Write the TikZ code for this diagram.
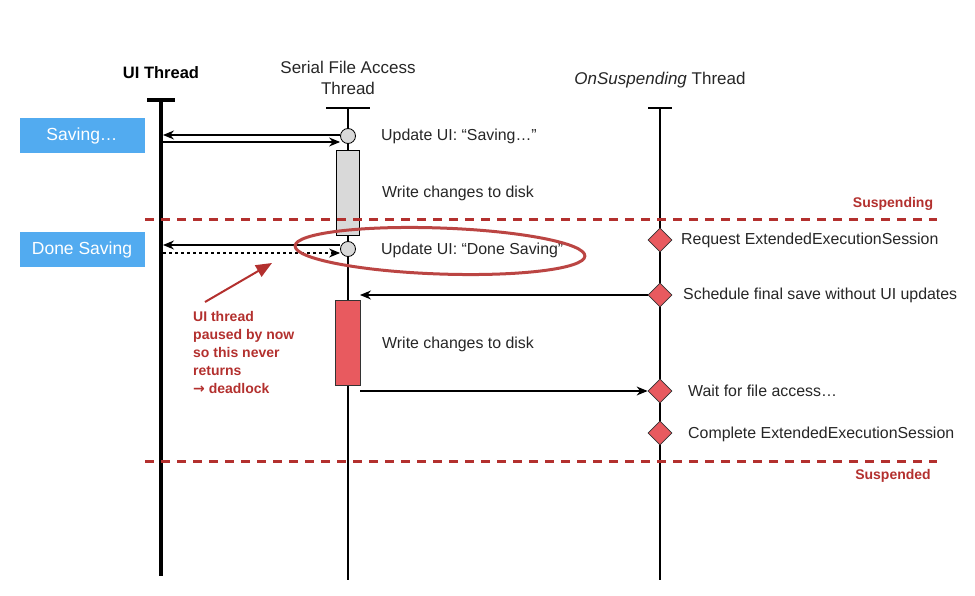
\documentclass[tikz,border=0pt]{standalone}
\usepackage{fontspec}
\setmainfont{Liberation Sans}
\usetikzlibrary{shapes.geometric,arrows.meta}
\definecolor{blu}{HTML}{52ABF0}
\definecolor{dred}{HTML}{B3302E}
\definecolor{lred}{HTML}{E85A5F}
\begin{document}
\begin{tikzpicture}[x=1pt,y=-1pt,font=\fontsize{15.9}{17}\selectfont,
  life/.style={line width=1.3pt},
  msg/.style={line width=1.2pt,-{Stealth[length=11pt,width=9pt]}},
  lbl/.style={anchor=west,inner sep=0pt,text=black!85},
  uibox/.style={fill=blu,text=white,minimum width=125pt,minimum height=35pt,inner sep=0pt,font=\fontsize{17.5}{19}\selectfont},
  circ/.style={circle,draw,fill=black!15,minimum size=15pt,inner sep=0pt,line width=0.8pt},
  dia/.style={diamond,draw=black!80,fill=lred,minimum size=24pt,inner sep=0pt,line width=0.8pt},
  sep/.style={dred,line width=3pt,dash pattern=on 9pt off 7pt},
  red/.style={text=dred,font=\fontsize{14}{18}\selectfont\bfseries}]
\useasboundingbox (0,0) rectangle (975,596);
% headers
\node[font=\fontsize{16.5}{18}\selectfont\bfseries] (h1) at (161,73) {UI Thread};
\node[align=center,font=\fontsize{17}{21}\selectfont,text=black!85] (h2) at (348,78) {Serial File Access\\Thread};
\node[font=\fontsize{17}{18}\selectfont,text=black!85] (h3) at (660,80) {\textit{OnSuspending} Thread};
% lifelines
\draw[line width=4pt] (147,100) -- (175,100);
\draw[line width=4pt] (161,100) -- (161,576);
\draw[life] (326,108) -- (370,108);
\draw[life] (348,108) -- (348,580);
\draw[life] (648,108) -- (672,108);
\draw[life] (660,108) -- (660,580);
% boxes
\node[uibox] (b1) at (82,136) {Saving…};
\node[uibox] (b2) at (82,250) {Done Saving};
\node[draw,fill=black!15,minimum width=23pt,minimum height=85pt,inner sep=0pt] (g) at (348,193) {};
\node[draw=black!80,fill=lred,line width=1pt,minimum width=25pt,minimum height=85pt,inner sep=0pt] (r) at (348,343) {};
\node[circ] (c1) at (348,136) {};
\node[circ] (c2) at (348,249) {};
% separators
\draw[sep] (145,220) -- (937,220);
\draw[sep] (145,461) -- (937,461);
\node[red] (s1) at (893,204) {Suspending};
\node[red] (s2) at (893,476) {Suspended};
% diamonds
\node[dia] (d1) at (660,240) {};
\node[dia] (d2) at (660,295) {};
\node[dia] (d3) at (660,391) {};
\node[dia] (d4) at (660,433) {};
% labels
\node[lbl] (l1) at (381,136) {Update UI: “Saving…”};
\node[lbl] (l2) at (382,193) {Write changes to disk};
\node[lbl] (l3) at (381,250) {Update UI: “Done Saving”};
\node[lbl] (l4) at (382,344) {Write changes to disk};
\node[lbl] (l5) at (681,240) {Request ExtendedExecutionSession};
\node[lbl] (l6) at (683,295) {Schedule final save without UI updates};
\node[lbl] (l7) at (688,391) {Wait for file access…};
\node[lbl] (l8) at (688,434) {Complete ExtendedExecutionSession};
% messages
\coordinate (u1) at (163,135); \coordinate (u2) at (163,142);
\coordinate (u3) at (163,245); \coordinate (u4) at (163,253);
\draw[msg] (c1.west |- u1) -- (u1);
\draw[msg] (u2) -- (c1.west |- u2);
\draw[msg] (c2.west |- u3) -- (u3);
\draw[msg,dashed] (u4) -- (c2.west |- u4);
\coordinate (a1) at (360,295);
\draw[msg] (d2.west) -- (a1);
\coordinate (a2) at (360,391);
\draw[msg] (a2) -- (d3.west);
% ellipse highlight
\node[draw=dred!90,line width=3pt,ellipse,minimum width=290pt,minimum height=46pt,rotate=-2] (el) at (440,251) {};
\coordinate (t0) at (205,302);
\draw[dred,line width=2pt,-{Triangle[length=16pt,width=13pt]}] (t0) -- (272,263);
\node[red,anchor=north west,align=left,inner sep=0pt] (note) at (193,311) {UI thread\\paused by now\\so this never\\returns\\{\fontspec{DejaVu Sans}\bfseries →} deadlock};
\end{tikzpicture}
\end{document}
